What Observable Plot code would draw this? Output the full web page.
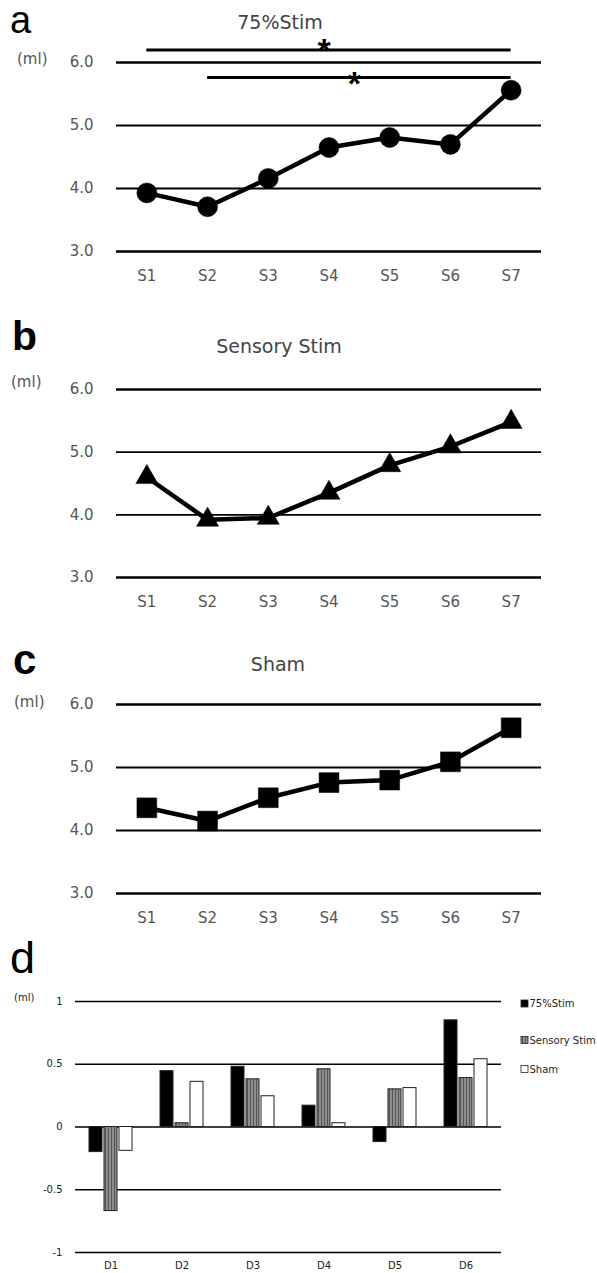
<!DOCTYPE html>
<html><head><meta charset="utf-8">
<script src="https://cdn.jsdelivr.net/npm/d3@7"></script>
<script src="https://cdn.jsdelivr.net/npm/@observablehq/plot@0.6"></script>
<style>
body{margin:0;background:#fff;}
#wrap{position:relative;width:597px;height:1273px;overflow:hidden;}
.panel{position:absolute;left:0;}
#overlay{position:absolute;left:0;top:0;pointer-events:none;}
</style></head><body><div id="wrap"></div>
<script>
// ---------- data ----------
const sessions = ["S1","S2","S3","S4","S5","S6","S7"];
const stim75   = [3.93, 3.71, 4.16, 4.65, 4.81, 4.70, 5.56];
const sensory  = [4.60, 3.92, 3.95, 4.35, 4.79, 5.09, 5.48];
const sham     = [4.36, 4.15, 4.52, 4.76, 4.80, 5.09, 5.63];
const lineTicks = [3, 4, 5, 6];
const sigFrom  = ["S1", "S2"];
const sigTo    = ["S7", "S7"];
const sigLevel = [6.2, 5.76];

const days        = ["D1","D2","D3","D4","D5","D6"];
const diff75      = [-0.20, 0.445, 0.48, 0.17, -0.12, 0.85];
const diffSensory = [-0.67, 0.03, 0.38, 0.46, 0.30, 0.39];
const diffSham    = [-0.19, 0.36, 0.245, 0.03, 0.31, 0.54];
const seriesNames = ["75%Stim","Sensory Stim","Sham"];
const barTicks    = [-1, -0.5, 0, 0.5, 1];
const panelTitles = ["75%Stim","Sensory Stim","Sham"];
const panelLetters = ["a","b","c","d"];

const FONT = "'DejaVu Sans', sans-serif";
const wrap = document.getElementById("wrap");

// pattern defs for hatched bars
const defs = d3.select(wrap).append("svg").attr("width",0).attr("height",0)
  .style("position","absolute");
const pat = defs.append("defs").append("pattern").attr("id","hatch")
  .attr("patternUnits","userSpaceOnUse").attr("width",3).attr("height",10);
pat.append("rect").attr("width",3).attr("height",10).attr("fill","#8e8e8e");
pat.append("rect").attr("width",1).attr("height",10).attr("fill","#555");

function place(svg, top) {
  const div = document.createElement("div");
  div.className = "panel"; div.style.top = top + "px";
  div.appendChild(svg); wrap.appendChild(div);
}

function linePanel(values, symbol, r, top, height, mTop, mBottom, tickPad, sig) {
  const rows = sessions.map((s, i) => ({i: i + 1, v: values[i]}));
  const marks = [
    Plot.ruleY(lineTicks.filter(t => t === 3 || t === 6), {stroke: "#000", strokeWidth: 2.5}),
    Plot.ruleY(lineTicks.filter(t => t !== 3 && t !== 6), {stroke: "#000", strokeWidth: 1.8}),
    Plot.line(rows, {x: "i", y: "v", stroke: "#000", strokeWidth: 4.5}),
    Plot.dot(rows, {x: "i", y: "v", r, symbol, fill: "#000", stroke: "#000", strokeWidth: 0.5})
  ];
  if (sig) {
    const sigRows = sigLevel.map((y, k) => ({
      y, x1: sessions.indexOf(sigFrom[k]) + 1, x2: sessions.indexOf(sigTo[k]) + 1
    }));
    marks.push(Plot.ruleY(sigRows, {y: "y", x1: "x1", x2: "x2", stroke: "#000", strokeWidth: 3}));
    const star = {x: d => (d.x1 + d.x2) / 2, y: "y", text: () => "*",
      fontSize: 34, fontWeight: "bold", fontFamily: "Liberation Sans", fill: "#000", dx: -5};
    marks.push(Plot.text(sigRows.slice(0, 1), {...star, dy: 1}));
    marks.push(Plot.text(sigRows.slice(1), {...star, dy: 6}));
  }
  const svg = Plot.plot({
    width: 597, height,
    marginTop: mTop, marginBottom: mBottom, marginLeft: 116, marginRight: 56,
    style: {background: "none", overflow: "visible", fontFamily: FONT, fontSize: "15px", color: "#555"},
    x: {type: "linear", domain: [0.5, 7.5], ticks: sessions.map((s, i) => i + 1),
        tickFormat: i => sessions[i - 1], tickSize: 0, tickPadding: tickPad, label: null},
    y: {domain: [3, 6], ticks: lineTicks, tickFormat: d => d.toFixed(1), tickSize: 0, tickPadding: 23, label: null},
    marks
  });
  place(svg, top);
}

linePanel(stim75,  "circle",   10,   0,   290, 62, 39, 19, true);
linePanel(sensory, "triangle", 8.2,  300, 320, 89, 43, 19, false);
linePanel(sham,    "square",   11.2, 620, 310, 84, 37, 19, false);

// ---------- panel d ----------
const barRows = days.flatMap((d, i) => [
  {day: d, series: seriesNames[0], v: diff75[i]},
  {day: d, series: seriesNames[1], v: diffSensory[i]},
  {day: d, series: seriesNames[2], v: diffSham[i]}
]);
const barSvg = Plot.plot({
  width: 597, height: 353,
  marginTop: 81, marginBottom: 21, marginLeft: 72, marginRight: 94,
  style: {background: "none", overflow: "visible", fontFamily: FONT, fontSize: "10px", color: "#222"},
  facet: {data: barRows, x: "day"},
  fx: {domain: days, padding: 0, axis: "bottom", tickSize: 0, tickPadding: 9, label: null},
  x: {domain: seriesNames, axis: null, paddingInner: 0.12, paddingOuter: 0.82},
  y: {domain: [-1, 1], ticks: barTicks, tickFormat: d => String(d), tickSize: 0, tickPadding: 13, label: null},
  color: {domain: seriesNames, range: ["#000", "url(#hatch)", "#fff"]},
  marks: [
    Plot.ruleY(barTicks, {stroke: "#000", strokeWidth: 1.6}),
    Plot.barY(barRows, {x: "series", y: "v", fill: "series", stroke: "#222", strokeWidth: 1})
  ]
});
place(barSvg, 920);

// ---------- overlay text ----------
const ov = d3.select(wrap).append("svg").attr("id", "overlay")
  .attr("width", 597).attr("height", 1273);
function txt(t, x, y, size, opts = {}) {
  ov.append("text").text(t).attr("x", x).attr("y", y)
    .attr("font-size", size)
    .attr("font-family", opts.family || FONT)
    .attr("font-weight", opts.weight || "normal")
    .attr("fill", opts.fill || "#444")
    .attr("text-anchor", opts.anchor || "start");
}
// panel letters
txt(panelLetters[0], 10, 33, 38, {family: "'Liberation Sans', Arial", fill: "#000"});
txt(panelLetters[1], 12, 350, 41, {family: "'Liberation Sans', Arial", fill: "#000", weight: "bold"});
txt(panelLetters[2], 13, 674, 42, {family: "'Liberation Sans', Arial", fill: "#000", weight: "bold"});
txt(panelLetters[3], 10, 973, 45, {family: "'Liberation Sans', Arial", fill: "#000"});
// titles
txt(panelTitles[0], 280, 29, 19, {anchor: "middle"});
txt(panelTitles[1], 279, 353, 19, {anchor: "middle"});
txt(panelTitles[2], 278, 671, 19, {anchor: "middle"});
// unit labels
txt("(ml)", 17, 64, 15, {fill: "#555"});
txt("(ml)", 11, 387, 15, {fill: "#555"});
txt("(ml)", 14, 707, 15, {fill: "#555"});
txt("(ml)", 14, 1001, 10, {fill: "#222"});
// legend for panel d
const legY = [1003.5, 1040, 1069];
const legFill = ["#000", "url(#hatch)", "#fff"];
seriesNames.forEach((name, k) => {
  ov.append("rect").attr("x", 521).attr("y", legY[k] - 3.5).attr("width", 7).attr("height", 7)
    .attr("fill", legFill[k]).attr("stroke", "#222").attr("stroke-width", 0.8);
  txt(name, 529.5, legY[k] + 3.5, 10, {fill: "#222"});
});
</script></body></html>
